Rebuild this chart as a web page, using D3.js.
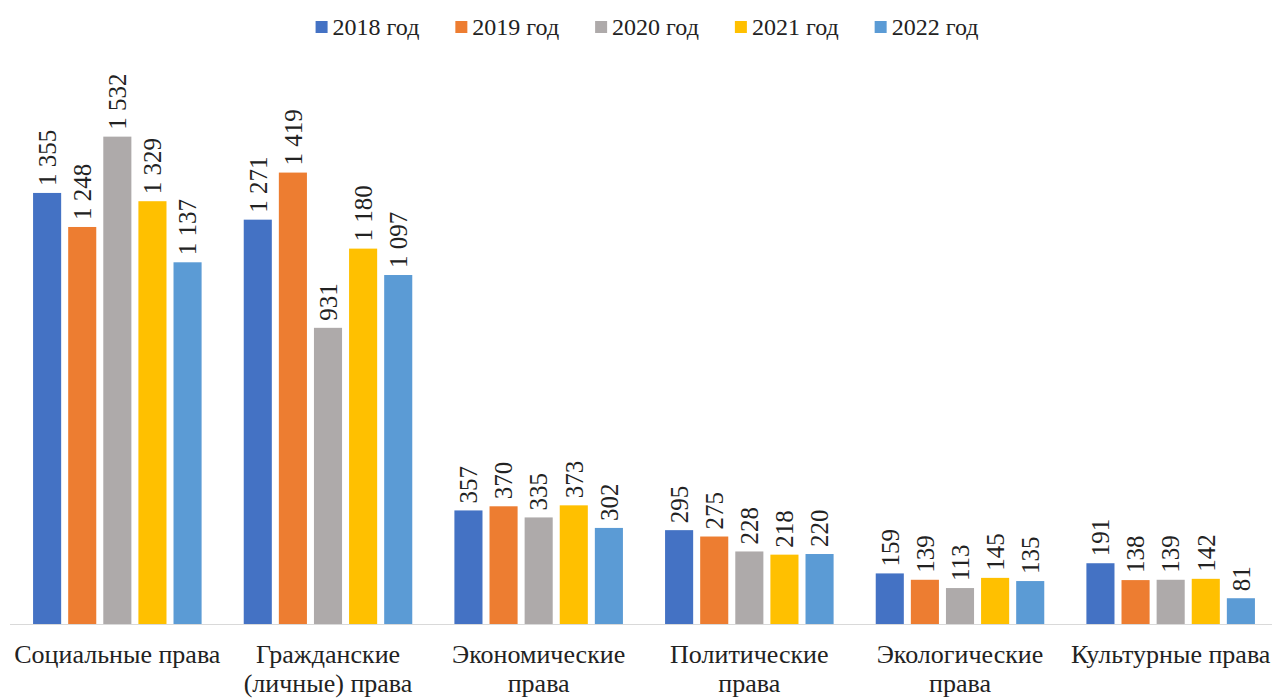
<!DOCTYPE html>
<meta charset="utf-8">
<script src="https://d3js.org/d3.v7.min.js"></script>
<body>
<style>
  html, body { margin: 0; padding: 0; background: #fff; }
</style>
<svg width="1274" height="700"></svg>
<script>
var categories = [
  ["Социальные права"],
  ["Гражданские", "(личные) права"],
  ["Экономические", "права"],
  ["Политические", "права"],
  ["Экологические", "права"],
  ["Культурные права"]
];
var seriesNames = ["2018 год", "2019 год", "2020 год", "2021 год", "2022 год"];
var seriesColors = ["#4472C4", "#ED7D31", "#AEAAAA", "#FFC000", "#5B9BD5"];
var v2018 = [1355, 1271, 357, 295, 159, 191];
var v2019 = [1248, 1419, 370, 275, 139, 138];
var v2020 = [1532, 931, 335, 228, 113, 139];
var v2021 = [1329, 1180, 373, 218, 145, 142];
var v2022 = [1137, 1097, 302, 220, 135, 81];
var series = [v2018, v2019, v2020, v2021, v2022];

var serif = "'Liberation Serif', Tinos, 'Nimbus Roman', 'Nimbus Roman No9 L', FreeSerif, 'Times New Roman', Times, 'DejaVu Serif', 'Noto Serif', serif";
var svg = d3.select("svg").attr("font-family", serif).style("fill", "#222");
var baseY = 624;

var locale = d3.formatLocale({decimal: ",", thousands: " ", grouping: [3], currency: ["", ""]});
var fmt = locale.format(",d");

var x0 = d3.scaleBand()
  .domain(d3.range(categories.length))
  .range([12, 1276])
  .paddingInner(0.2)
  .paddingOuter(0.1);

var x1 = d3.scaleBand()
  .domain(d3.range(series.length))
  .range([0, x0.bandwidth()])
  .paddingInner(0.2)
  .paddingOuter(0);

var y = d3.scaleLinear().domain([0, 1600]).range([baseY, 115]);

// baseline
svg.append("line")
  .attr("x1", 10).attr("x2", 1272)
  .attr("y1", baseY + 0.5).attr("y2", baseY + 0.5)
  .attr("stroke", "#d9d9d9").attr("stroke-width", 1);

var groups = svg.selectAll("g.grp")
  .data(categories)
  .enter().append("g")
  .attr("class", "grp")
  .attr("transform", function (d, i) { return "translate(" + x0(i) + ",0)"; });

groups.each(function (c, ci) {
  var g = d3.select(this);
  var rows = series.map(function (s, si) { return { si: si, v: s[ci] }; });

  g.selectAll("rect")
    .data(rows)
    .enter().append("rect")
    .attr("x", function (d) { return x1(d.si); })
    .attr("y", function (d) { return y(d.v); })
    .attr("width", x1.bandwidth())
    .attr("height", function (d) { return baseY - y(d.v); })
    .attr("fill", function (d) { return seriesColors[d.si]; });

  g.selectAll("text.val")
    .data(rows)
    .enter().append("text")
    .attr("class", "val")
    .attr("transform", function (d) {
      return "translate(" + (x1(d.si) + x1.bandwidth() / 2) + "," + (y(d.v) - 7) + ") rotate(-90)";
    })
    .attr("dy", "0.35em")
    .attr("text-anchor", "start")
    .attr("fill", "#222")
    .style("font-size", "25px")
    .text(function (d) { return fmt(d.v); });
});

// category labels
var cat = svg.selectAll("text.cat")
  .data(categories)
  .enter().append("text")
  .attr("class", "cat")
  .attr("x", function (d, i) { return x0(i) + x0.bandwidth() / 2; })
  .attr("y", 663)
  .attr("text-anchor", "middle")
  .attr("fill", "#222")
  .style("font-size", "26px");

cat.selectAll("tspan")
  .data(function (d) { return d; })
  .enter().append("tspan")
  .attr("x", function () { return d3.select(this.parentNode).attr("x"); })
  .attr("dy", function (d, i) { return i ? 29 : 0; })
  .text(function (d) { return d; });

// legend
var legend = svg.append("g");
var lx = 0;
seriesNames.forEach(function (name, i) {
  var item = legend.append("g").attr("transform", "translate(" + lx + ",0)");
  item.append("rect")
    .attr("x", 0).attr("y", 21)
    .attr("width", 12).attr("height", 12)
    .attr("fill", seriesColors[i]);
  var t = item.append("text")
    .attr("x", 17).attr("y", 35)
    .attr("fill", "#222")
    .style("font-size", "24px")
    .text(name);
  lx += 17 + t.node().getComputedTextLength() + 36;
});
var lw = lx - 36;
legend.attr("transform", "translate(" + (647 - lw / 2) + ",0)");
</script>
</body>
